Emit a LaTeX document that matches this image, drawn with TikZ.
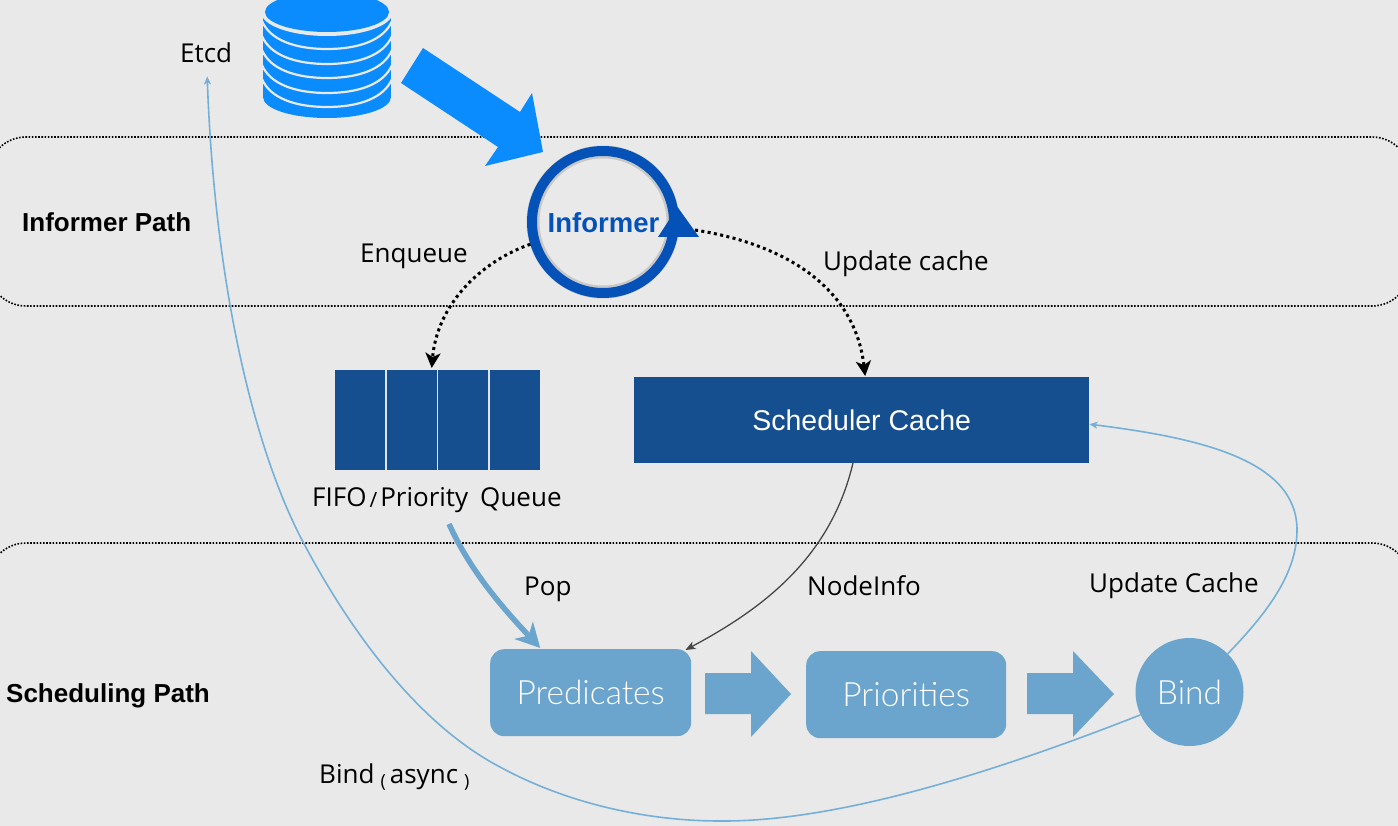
\documentclass[tikz,border=0pt]{standalone}
\usepackage{fontspec}
\setmainfont{Open Sans}
\newfontfamily\boldf{Liberation Sans}[Ligatures=TeX]
\newfontfamily\lightf{Lato}[UprightFont=* Light]
\usetikzlibrary{arrows.meta,calc}
\definecolor{bgc}{HTML}{E9E9E9}
\definecolor{dbblue}{HTML}{0A8CFF}
\definecolor{infblue}{HTML}{0452B8}
\definecolor{navyc}{HTML}{154F8F}
\definecolor{steelc}{HTML}{6BA5CD}
\definecolor{linec}{HTML}{74B0D8}
\tikzset{
 lbl/.style={font=\fontsize{26}{26}\selectfont,text=black,inner sep=0pt,anchor=base west},
 pathlbl/.style={font=\boldf\bfseries\fontsize{26}{26}\selectfont,text=black,inner sep=0pt,anchor=base west},
 panel/.style={draw=black,line width=1.6pt,dash pattern=on 1.6pt off 1.6pt,rounded corners=38pt},
 navybox/.style={fill=navyc,draw=none,inner sep=0pt,anchor=north west},
 steelbox/.style={fill=steelc,draw=none,rounded corners=14pt,inner sep=0pt,anchor=north west,text=white,font=\lightf\fontsize{33.5}{33}\selectfont},
 dotarrow/.style={black,line width=3pt,dash pattern=on 3pt off 3.4pt,-{Stealth[length=15pt,width=15pt,inset=4pt]}},
 thinblue/.style={linec,line width=1.6pt,-{Stealth[length=8pt,width=7pt,inset=2pt]}},
 blockarrow/.style={fill=steelc,draw=none},
}
\begin{document}
\begin{tikzpicture}[x=1pt,y=-1pt]
\useasboundingbox (0,0) rectangle (1398,826);
\clip (0,0) rectangle (1398,826);
\fill[bgc] (0,0) rectangle (1398,826);
% panels
\draw[panel] (-12,137) rectangle (1410,306);
\draw[panel] (-12,543) rectangle (1410,900);
% database
\fill[dbblue] (263,17) -- (391,17) -- (391,97) .. controls (391,109) and (362,118) .. (327,118) .. controls (292,118) and (263,109) .. (263,97) -- cycle;
\fill[bgc] (327,12) ellipse [x radius=66,y radius=24];
\fill[dbblue] (327,12) ellipse [x radius=62,y radius=20];
\foreach \c in {28,43,57,72,86} {
  \draw[bgc,line width=2.2pt] (262,\c-7) .. controls (270,\c+12) and (295,\c+21) .. (327,\c+21) .. controls (359,\c+21) and (384,\c+12) .. (392,\c-7);
}
\fill[bgc] (255,-5) rectangle (263,125);
\fill[bgc] (391,-5) rectangle (399,125);
% big arrow
\fill[dbblue] (423,48) -- (520,112) -- (532,93) -- (543,152) -- (485,166) -- (498,147) -- (401,83) -- cycle;
% informer
\node[circle,draw=black,line width=13pt,opacity=.14,minimum size=140pt,inner sep=0pt] at (603,222) {};
\node[circle,draw=infblue,line width=10pt,minimum size=142pt,inner sep=0pt] (informer) at (603,222) {};
\node[text=infblue,font=\boldf\bfseries\fontsize{27.5}{28}\selectfont,inner sep=0pt] (informertext) at (603.5,223) {Informer};
\fill[infblue] (677.5,207) -- (699,237) -- (658,237) -- cycle;
\coordinate (trinode) at (695,230);
% navy boxes
\node[navybox,minimum width=205pt,minimum height=100pt] (queue) at (335,370) {};
\foreach \x in {386,437.5,489} \draw[white!85!navyc,line width=1.1pt] (\x,370) -- (\x,470);
\node[navybox,minimum width=455pt,minimum height=86pt,text=white,font=\boldf\fontsize{28.5}{28}\selectfont] (cache) at (634,377) {Scheduler Cache};
% steel boxes
\node[steelbox,minimum width=201pt,minimum height=87pt] (pred) at (490,649) {Predicates};
\node[steelbox,minimum width=200pt,minimum height=87pt] (prio) at (806,651) {Priorities};
\node[circle,fill=steelc,draw=none,minimum size=108pt,inner sep=0pt,text=white,font=\lightf\fontsize{33.5}{33}\selectfont] (bind) at (1189.5,692) {Bind};
% block arrows
\fill[blockarrow] (705,673) -- (751,673) -- (751,651) -- (791,694) -- (751,737) -- (751,714) -- (705,714) -- cycle;
\fill[blockarrow] (1027,673) -- (1073,673) -- (1073,651) -- (1114,694) -- (1073,737) -- (1073,714) -- (1027,714) -- cycle;
% labels
\node[lbl] (etcd) at (180,63) {Etcd};
\node[lbl] (enq) at (360,263) {Enqueue};
\node[lbl] (upd) at (823,271) {Update cache};
\node[lbl] (fifo) at (312,506) {FIFO\hspace{3pt}{\fontsize{21}{21}\selectfont\raisebox{-1pt}{/}}\hspace{3pt}Priority\hspace{12pt}Queue};
\node[lbl] (pop) at (524,595) {Pop};
\node[lbl] (ninfo) at (807,595) {NodeInfo};
\node[lbl] (updc) at (1089,592) {Update Cache};
\node[lbl] (bas) at (319,783) {Bind\hspace{6pt}{\fontsize{18}{18}\selectfont\raisebox{-4pt}{(}}\hspace{4pt}async\hspace{6pt}{\fontsize{18}{18}\selectfont\raisebox{-4pt}{)}}};
\node[pathlbl] (p1) at (22,232) {Informer Path};
\node[pathlbl] (p2) at (6,702) {Scheduling Path};
% connectors
\coordinate (popstart) at (449,524);
\draw[dotarrow] (informer.197) .. controls (480,262) and (437,305) .. ([xshift=-6pt,yshift=2pt]queue.north);
\draw[dotarrow] (trinode) .. controls (790,245) and (855,290) .. ([xshift=3.5pt,yshift=1pt]cache.north);
\draw[steelc,line width=5.5pt,-{Stealth[length=24pt,width=25pt,inset=7pt]}] (popstart) .. controls (470,570) and (500,605) .. ([xshift=-50.5pt,yshift=1pt]pred.north);
\draw[black!72,line width=1.3pt,-{Stealth[length=10pt,width=8pt,inset=2.5pt]}] (853,463) .. controls (830,560) and (760,610) .. ([xshift=-6pt,yshift=-1pt]pred.north east);
\coordinate (peak) at (1297,530);
\draw[thinblue] (bind.45) .. controls (1265,615) and (1297,575) .. (peak) .. controls (1297,460) and (1200,438) .. ([yshift=-4pt]cache.east);
\coordinate (low) at (720,821);
\coordinate (knot) at (500,767);
\coordinate (mid) at (302,540);
\draw[thinblue] (bind.205) .. controls (1000,770) and (840,822) .. (low) .. controls (650,821) and (570,805) .. (knot) .. controls (420,725) and (352,635) .. (mid) .. controls (255,450) and (215,290) .. ([xshift=1pt,yshift=-13pt]etcd.south);
\end{tikzpicture}
\end{document}
